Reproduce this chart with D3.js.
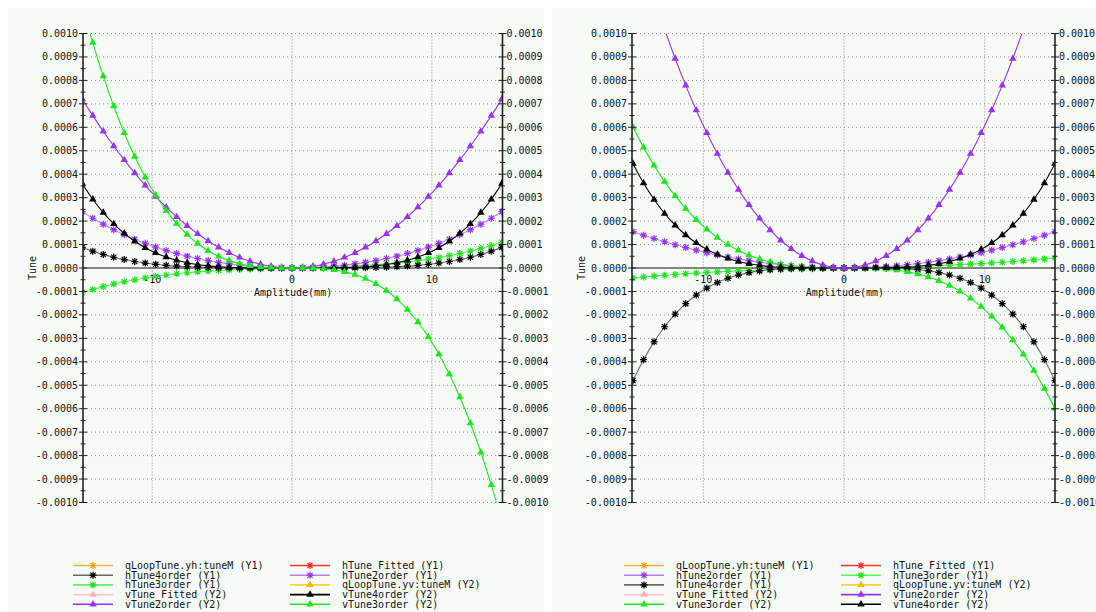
<!DOCTYPE html>
<html>
<head>
<meta charset="utf-8">
<script src="https://cdn.jsdelivr.net/npm/d3@7"></script>
<style>
  body { margin: 0; background: #fff; }
  text { font-family: "DejaVu Sans Mono", monospace; font-size: 10px; fill: #111; }
</style>
</head>
<body>
<svg id="chart" width="1096" height="612"></svg>
<script>
// amplitude samples (mm), shared by every series
const amplitude = [-15, -14.25, -13.5, -12.75, -12, -11.25, -10.5, -9.75, -9, -8.25, -7.5, -6.75, -6, -5.25, -4.5, -3.75, -3, -2.25, -1.5, -0.75,
  0, 0.75, 1.5, 2.25, 3, 3.75, 4.5, 5.25, 6, 6.75, 7.5, 8.25, 9, 9.75, 10.5, 11.25, 12, 12.75, 13.5, 14.25, 15];

// tune shifts, in units of 1e-4 (left panel)
const hTune4orderL = [0.880, 0.717, 0.577, 0.459, 0.360, 0.278, 0.211, 0.157, 0.114, 0.081, 0.055, 0.036, 0.023, 0.013, 0.007, 0.003, 0.001, 0, 0, 0,
  0, 0, 0, 0, 0.001, 0.003, 0.007, 0.013, 0.023, 0.036, 0.055, 0.081, 0.114, 0.157, 0.211, 0.278, 0.360, 0.459, 0.577, 0.717, 0.880];
const hTune3orderL = [-1.045, -0.913, -0.794, -0.686, -0.589, -0.503, -0.426, -0.358, -0.299, -0.247, -0.203, -0.164, -0.132, -0.104, -0.081, -0.062, -0.046, -0.032, -0.021, -0.010,
  0, 0.010, 0.021, 0.033, 0.048, 0.065, 0.086, 0.110, 0.140, 0.174, 0.215, 0.262, 0.317, 0.379, 0.451, 0.531, 0.621, 0.722, 0.834, 0.958, 1.095];
const hTune2orderL = [2.4, 2.122, 1.867, 1.634, 1.421, 1.227, 1.051, 0.892, 0.749, 0.621, 0.506, 0.405, 0.317, 0.240, 0.175, 0.121, 0.077, 0.043, 0.019, 0.005,
  0, 0.005, 0.019, 0.043, 0.077, 0.121, 0.175, 0.240, 0.317, 0.405, 0.506, 0.621, 0.749, 0.892, 1.051, 1.227, 1.421, 1.634, 1.867, 2.122, 2.4];
const vTune2orderL = [7.2, 6.498, 5.832, 5.202, 4.608, 4.05, 3.528, 3.042, 2.592, 2.178, 1.8, 1.458, 1.152, 0.882, 0.648, 0.45, 0.288, 0.162, 0.072, 0.018,
  0, 0.018, 0.072, 0.162, 0.288, 0.45, 0.648, 0.882, 1.152, 1.458, 1.8, 2.178, 2.592, 3.042, 3.528, 4.05, 4.608, 5.202, 5.832, 6.498, 7.2];
const vTune4orderL = [3.6, 2.932, 2.362, 1.879, 1.475, 1.139, 0.864, 0.643, 0.467, 0.329, 0.225, 0.148, 0.092, 0.054, 0.029, 0.014, 0.006, 0.002, 0, 0,
  0, 0, 0, 0.002, 0.006, 0.014, 0.029, 0.054, 0.092, 0.148, 0.225, 0.329, 0.467, 0.643, 0.864, 1.139, 1.475, 1.879, 2.362, 2.932, 3.6];
const vTune3orderL = [11.2, 9.612, 8.181, 6.900, 5.760, 4.753, 3.871, 3.105, 2.448, 1.891, 1.425, 1.043, 0.736, 0.496, 0.315, 0.184, 0.096, 0.042, 0.013, 0.002,
  0, -0.001, -0.009, -0.033, -0.080, -0.159, -0.279, -0.447, -0.672, -0.962, -1.325, -1.770, -2.304, -2.936, -3.675, -4.528, -5.504, -6.611, -7.857, -9.251, -10.8];

// right panel
const vTune2orderR = [14.5, 12.954, 11.514, 10.176, 8.934, 7.787, 6.730, 5.760, 4.874, 4.070, 3.344, 2.694, 2.118, 1.615, 1.182, 0.818, 0.522, 0.293, 0.130, 0.033,
  0, 0.033, 0.130, 0.293, 0.522, 0.818, 1.182, 1.615, 2.118, 2.694, 3.344, 4.070, 4.874, 5.760, 6.730, 7.787, 8.934, 10.176, 11.514, 12.954, 14.5];
const hTune2orderR = [1.55, 1.399, 1.256, 1.120, 0.992, 0.872, 0.760, 0.655, 0.558, 0.469, 0.388, 0.314, 0.248, 0.190, 0.140, 0.097, 0.062, 0.035, 0.016, 0.004,
  0, 0.004, 0.016, 0.035, 0.062, 0.097, 0.140, 0.190, 0.248, 0.314, 0.388, 0.469, 0.558, 0.655, 0.760, 0.872, 0.992, 1.120, 1.256, 1.399, 1.55];
const hTune4orderR = [-4.8, -3.910, -3.149, -2.506, -1.966, -1.519, -1.153, -0.857, -0.622, -0.439, -0.3, -0.197, -0.123, -0.072, -0.039, -0.019, -0.008, -0.002, -0.001, 0,
  0, 0, -0.001, -0.002, -0.008, -0.019, -0.039, -0.072, -0.123, -0.197, -0.3, -0.439, -0.622, -0.857, -1.153, -1.519, -1.966, -2.506, -3.149, -3.910, -4.8];
const vTune4orderR = [4.45, 3.625, 2.920, 2.323, 1.823, 1.408, 1.068, 0.794, 0.577, 0.407, 0.278, 0.182, 0.114, 0.067, 0.036, 0.017, 0.007, 0.002, 0, 0,
  0, 0, 0, 0.002, 0.007, 0.017, 0.036, 0.067, 0.114, 0.182, 0.278, 0.407, 0.577, 0.794, 1.068, 1.408, 1.823, 2.323, 2.920, 3.625, 4.45];
const hTune3orderR = [-0.43, -0.386, -0.346, -0.309, -0.275, -0.244, -0.215, -0.189, -0.166, -0.144, -0.125, -0.107, -0.091, -0.077, -0.064, -0.051, -0.040, -0.029, -0.019, -0.010,
  0, 0.010, 0.019, 0.029, 0.040, 0.051, 0.064, 0.077, 0.091, 0.107, 0.125, 0.144, 0.166, 0.189, 0.215, 0.244, 0.275, 0.309, 0.346, 0.386, 0.43];
const vTune3orderR = [6, 5.144, 4.374, 3.685, 3.072, 2.531, 2.058, 1.648, 1.296, 0.998, 0.75, 0.547, 0.384, 0.257, 0.162, 0.094, 0.048, 0.020, 0.006, 0.001,
  0, -0.001, -0.006, -0.020, -0.048, -0.094, -0.162, -0.257, -0.384, -0.547, -0.75, -0.998, -1.296, -1.648, -2.058, -2.531, -3.072, -3.685, -4.374, -5.144, -6];

const tuneUnit = 1e-4;

const yTickValues = [0.0010, 0.0009, 0.0008, 0.0007, 0.0006, 0.0005, 0.0004, 0.0003, 0.0002, 0.0001, 0,
  -0.0001, -0.0002, -0.0003, -0.0004, -0.0005, -0.0006, -0.0007, -0.0008, -0.0009, -0.0010];
const xTickValues = [-10, 0, 10];
const xTickLabels = ['-10', '0', '10'];

// legend order, column by column
const leftLegend = ['qLoopTune.yh:tuneM (Y1)', 'hTune4order (Y1)', 'hTune3order (Y1)', 'vTune_Fitted (Y2)', 'vTune2order (Y2)',
  'hTune_Fitted (Y1)', 'hTune2order (Y1)', 'qLoopTune.yv:tuneM (Y2)', 'vTune4order (Y2)', 'vTune3order (Y2)'];
const rightLegend = ['qLoopTune.yh:tuneM (Y1)', 'hTune2order (Y1)', 'hTune4order (Y1)', 'vTune_Fitted (Y2)', 'vTune3order (Y2)',
  'hTune_Fitted (Y1)', 'hTune3order (Y1)', 'qLoopTune.yv:tuneM (Y2)', 'vTune2order (Y2)', 'vTune4order (Y2)'];

const styles = {
  'qLoopTune.yh:tuneM (Y1)': {line: '#ffb43c', marker: '#ff9a00', symbol: 'star'},
  'hTune4order (Y1)': {line: '#6a6a6a', marker: '#000', symbol: 'star'},
  'hTune3order (Y1)': {line: '#5cf55c', marker: '#1ee61e', symbol: 'star'},
  'vTune_Fitted (Y2)': {line: '#ffc4cc', marker: '#ffb0bc', symbol: 'tri'},
  'vTune2order (Y2)': {line: '#9933f0', marker: '#9933f0', symbol: 'tri'},
  'hTune_Fitted (Y1)': {line: '#ff3030', marker: '#ff2020', symbol: 'star'},
  'hTune2order (Y1)': {line: '#b783f5', marker: '#9933f0', symbol: 'star'},
  'qLoopTune.yv:tuneM (Y2)': {line: '#ffd23c', marker: '#f0c000', symbol: 'tri'},
  'vTune4order (Y2)': {line: '#000', marker: '#000', symbol: 'tri'},
  'vTune3order (Y2)': {line: '#1ee61e', marker: '#1ee61e', symbol: 'tri'}
};

const panels = [
  {id: 'l', left: 83, right: 502.5, top: 33.5, bottom: 502.5, xDomain: [-14.95, 15.05], bgX: 8, bgW: 536,
    series: [['hTune3order (Y1)', hTune3orderL], ['hTune4order (Y1)', hTune4orderL], ['hTune2order (Y1)', hTune2orderL],
      ['vTune4order (Y2)', vTune4orderL], ['vTune2order (Y2)', vTune2orderL], ['vTune3order (Y2)', vTune3orderL]],
    legend: leftLegend, legendX: [73, 290]},
  {id: 'r', left: 632, right: 1055, top: 33.5, bottom: 502.5, xDomain: [-15.07, 15.0], bgX: 552, bgW: 544,
    series: [['hTune3order (Y1)', hTune3orderR], ['hTune2order (Y1)', hTune2orderR], ['hTune4order (Y1)', hTune4orderR],
      ['vTune3order (Y2)', vTune3orderR], ['vTune4order (Y2)', vTune4orderR], ['vTune2order (Y2)', vTune2orderR]],
    legend: rightLegend, legendX: [624, 841]}
];

const svg = d3.select('#chart');
const starPath = 'M-3.5,0H3.5M0,-3.5V3.5M-2.6,-2.6L2.6,2.6M-2.6,2.6L2.6,-2.6';
const triPath = d3.symbol(d3.symbolTriangle).size(24)();
const fmtTune = v => (v < 0 ? '-' : '') + Math.abs(v).toFixed(4);

const drawMarker = (sel, style) => {
  if (style.symbol === 'star') {
    sel.attr('d', starPath).attr('fill', 'none').attr('stroke', style.marker).attr('stroke-width', 1.2);
  } else {
    sel.attr('d', triPath).attr('fill', style.marker).attr('stroke', 'none');
  }
};

panels.forEach(p => {
  svg.append('rect')
    .attr('x', p.bgX).attr('y', 8)
    .attr('width', p.bgW).attr('height', 604)
    .attr('fill', '#f6fbf7');

  const x = d3.scaleLinear().domain(p.xDomain).range([p.left, p.right]);
  const y = d3.scaleLinear().domain([-0.001, 0.001]).range([p.bottom, p.top]);
  const g = svg.append('g');

  // dotted grid
  g.selectAll('.hgrid')
    .data(yTickValues.filter(v => v !== 0))
    .join('line')
      .attr('x1', p.left).attr('x2', p.right)
      .attr('y1', d => y(d)).attr('y2', d => y(d))
      .attr('stroke', '#8a8a8a').attr('stroke-dasharray', '1,3');
  g.selectAll('.vgrid')
    .data(xTickValues)
    .join('line')
      .attr('x1', d => x(d)).attr('x2', d => x(d))
      .attr('y1', p.top).attr('y2', p.bottom)
      .attr('stroke', '#8a8a8a').attr('stroke-dasharray', '1,2');

  // horizontal axis through zero
  g.append('line')
    .attr('x1', p.left).attr('x2', p.right)
    .attr('y1', y(0)).attr('y2', y(0))
    .attr('stroke', '#111');
  g.selectAll('.xlab')
    .data(xTickValues)
    .join('text')
      .attr('x', (d, i) => x(d) + (i === 0 ? 0 : 0))
      .attr('y', y(0) + 15)
      .attr('text-anchor', 'middle')
      .text((d, i) => xTickLabels[i]);
  g.append('text')
    .attr('x', x(0) + 1).attr('y', y(0) + 28)
    .attr('text-anchor', 'middle')
    .text('Amplitude(mm)');
  g.append('text')
    .attr('transform', `translate(${p.left - 47},${y(0)}) rotate(-90)`)
    .attr('text-anchor', 'middle')
    .text('Tune');

  // curves, clipped to the plot box
  const clipId = 'clip-' + p.id;
  svg.append('clipPath').attr('id', clipId)
    .append('rect')
      .attr('x', p.left).attr('y', p.top)
      .attr('width', p.right - p.left).attr('height', p.bottom - p.top);
  const plot = g.append('g').attr('clip-path', `url(#${clipId})`);
  const line = d3.line()
    .x(d => x(d[0]))
    .y(d => y(d[1] * tuneUnit))
    .curve(d3.curveMonotoneX);

  p.series.forEach(([name, values]) => {
    const style = styles[name];
    const pts = d3.zip(amplitude, values);
    plot.append('path')
      .datum(pts)
      .attr('d', line)
      .attr('fill', 'none')
      .attr('stroke', style.line)
      .attr('stroke-width', 1.1);
    plot.append('g').selectAll('path')
      .data(pts)
      .join('path')
        .attr('transform', d => `translate(${x(d[0])},${y(d[1] * tuneUnit)})`)
        .call(drawMarker, style);
  });

  // vertical axes on both sides
  const minorTicks = yTickValues.slice(1).map((v, i) => (v + yTickValues[i]) / 2);
  [p.left, p.right].forEach((ax, side) => {
    const a = svg.append('g');
    a.append('line')
      .attr('x1', ax).attr('x2', ax)
      .attr('y1', p.top).attr('y2', p.bottom)
      .attr('stroke', '#222').attr('stroke-width', 1.6);
    a.selectAll('.major')
      .data(yTickValues)
      .join('line')
        .attr('x1', ax - 4).attr('x2', ax + 4)
        .attr('y1', d => y(d)).attr('y2', d => y(d))
        .attr('stroke', '#222');
    a.selectAll('.minor')
      .data(minorTicks)
      .join('line')
        .attr('x1', ax - 2.5).attr('x2', ax + 2.5)
        .attr('y1', d => y(d)).attr('y2', d => y(d))
        .attr('stroke', '#222');
    a.selectAll('text')
      .data(yTickValues)
      .join('text')
        .attr('x', side === 0 ? ax - 5 : ax + 4)
        .attr('y', d => y(d))
        .attr('dy', '0.35em')
        .attr('text-anchor', side === 0 ? 'end' : 'start')
        .text(fmtTune);
  });

  // legend
  const leg = svg.append('g');
  p.legend.forEach((name, i) => {
    const style = styles[name];
    const lx = p.legendX[Math.floor(i / 5)];
    const ly = 565.5 + (i % 5) * 9.7;
    leg.append('line')
      .attr('x1', lx).attr('x2', lx + 40)
      .attr('y1', ly).attr('y2', ly)
      .attr('stroke', style.line).attr('stroke-width', 1.6);
    leg.append('path')
      .attr('transform', `translate(${lx + 20},${ly})`)
      .call(drawMarker, style);
    leg.append('text')
      .attr('x', lx + 52).attr('y', ly)
      .attr('dy', '0.35em')
      .text(name);
  });
});
</script>
</body>
</html>
